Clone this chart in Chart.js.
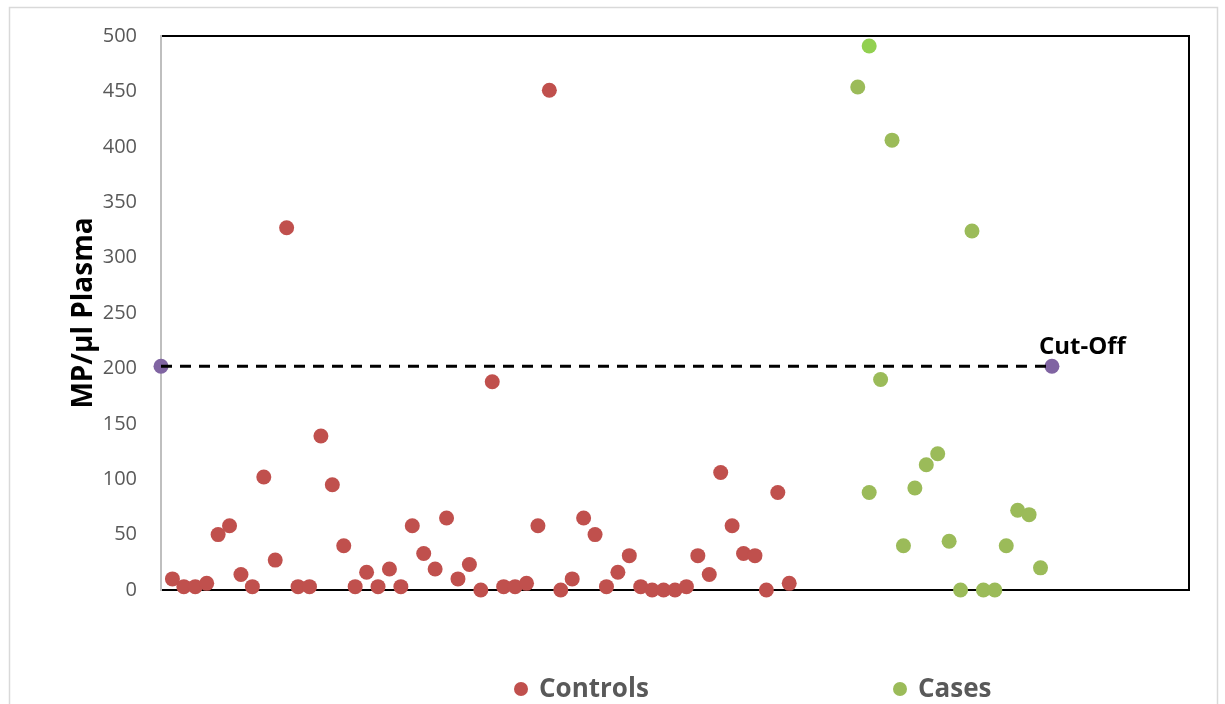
<!DOCTYPE html>
<html>
<head>
<meta charset="utf-8">
<script src="https://cdn.jsdelivr.net/npm/chart.js@4.4.1/dist/chart.umd.min.js"></script>
<style>
html,body{margin:0;padding:0;background:#ffffff;}
canvas{display:block;}
</style>
</head>
<body>
<canvas id="c" width="1225" height="704"></canvas>
<script>
// ---- data ----
const seriesLabels = ['Controls', 'Cases', 'Cut-Off'];
const controlsX = [1,2,3,4,5,6,7,8,9,10,11,12,13,14,15,16,17,18,19,20,21,22,23,24,25,26,27,28,29,30,31,32,33,34,35,36,37,38,39,40,41,42,43,44,45,46,47,48,49,50,51,52,53,54,55];
const controlsY = [10,3,3,6,50,58,14,3,102,27,327,3,3,139,95,40,3,16,3,19,3,58,33,19,65,10,23,0,188,3,3,6,58,451,0,10,65,50,3,16,31,3,0,0,0,3,31,14,106,58,33,31,0,88,6];
const casesX = [61,62,62,63,64,65,66,67,68,69,70,71,72,73,74,75,76,77];
const casesY = [454,88,491,190,406,40,92,113,123,44,0,324,0,0,40,72,68,20];
const casesHighlightIndex = 2;
const cutoffX = [0, 78];
const cutoffY = [202, 202];
const yTicks = [0,50,100,150,200,250,300,350,400,450,500];
const yTitle = 'MP/µl Plasma';
const cutoffText = 'Cut-Off';

const toPts = (xs, ys) => xs.map((x, i) => ({x: x, y: ys[i]}));

// ---- styles ----
const COL_CONTROLS = '#C0504D';
const COL_CASES = '#9BBB59';
const COL_CASES_HI = '#92D050';
const COL_CUTOFF = '#8064A2';
const FONT = '"Open Sans", "DejaVu Sans", sans-serif';

const frameAndLabels = {
  id: 'frameAndLabels',
  beforeDraw(chart) {
    const ctx = chart.ctx;
    ctx.save();
    ctx.fillStyle = '#ffffff';
    ctx.fillRect(0, 0, chart.width, chart.height);
    ctx.strokeStyle = '#D9D9D9';
    ctx.lineWidth = 1.5;
    ctx.strokeRect(9.5, 7.5, 1208, 720);
    ctx.restore();
  },
  afterDraw(chart) {
    const ctx = chart.ctx;
    const xs = chart.scales.x, ys = chart.scales.y;
    ctx.save();
    // Cut-Off label
    const px = xs.getPixelForValue(cutoffX[1]);
    const py = ys.getPixelForValue(cutoffY[1]);
    ctx.font = 'bold 24px ' + FONT;
    ctx.fillStyle = '#000000';
    ctx.textAlign = 'left';
    ctx.textBaseline = 'middle';
    ctx.fillText(cutoffText, px - 13, py - 19);
    // Legend (Controls, Cases)
    const legendX = [521, 900];
    const legendColors = [COL_CONTROLS, COL_CASES];
    const ly = 689;
    ctx.font = 'bold 26px ' + FONT;
    [0, 1].forEach((di, i) => {
      ctx.fillStyle = legendColors[i];
      ctx.beginPath();
      ctx.arc(legendX[i], ly, 7, 0, Math.PI * 2);
      ctx.fill();
      ctx.fillStyle = '#595959';
      ctx.fillText(chart.data.datasets[di].label, legendX[i] + 18, ly + 1);
    });
    ctx.restore();
  }
};

new Chart(document.getElementById('c'), {
  type: 'scatter',
  data: {
    datasets: [
      {
        label: seriesLabels[0],
        data: toPts(controlsX, controlsY),
        backgroundColor: COL_CONTROLS,
        borderWidth: 0,
        pointRadius: 7.5,
        clip: false,
        order: 3
      },
      {
        label: seriesLabels[1],
        data: toPts(casesX, casesY),
        backgroundColor: (c) => c.dataIndex === casesHighlightIndex ? COL_CASES_HI : COL_CASES,
        borderWidth: 0,
        pointRadius: 7.5,
        clip: false,
        order: 3
      },
      {
        label: seriesLabels[2],
        data: toPts(cutoffX, cutoffY),
        backgroundColor: COL_CUTOFF,
        borderWidth: 0,
        pointRadius: 7.5,
        clip: false,
        order: 2
      },
      {
        label: seriesLabels[2] + ' line',
        data: toPts(cutoffX, cutoffY),
        showLine: true,
        borderColor: '#000000',
        borderWidth: 3,
        borderDash: [11, 8],
        pointRadius: 0,
        clip: false,
        order: 1
      }
    ]
  },
  options: {
    responsive: false,
    animation: false,
    devicePixelRatio: 1,
    layout: {padding: {left: 0, right: 0, top: 0, bottom: 0}},
    plugins: {
      legend: {display: false},
      tooltip: {enabled: false}
    },
    scales: {
      x: {
        type: 'linear', position: 'bottom', min: 0, max: 90,
        grid: {display: false, drawTicks: false},
        ticks: {display: false},
        border: {display: true, color: '#000000', width: 2},
        afterFit: (s) => { s.height = 114; }
      },
      x2: {
        type: 'linear', position: 'top', min: 0, max: 90,
        grid: {display: false, drawTicks: false},
        ticks: {display: false},
        border: {display: true, color: '#000000', width: 2},
        afterFit: (s) => { s.height = 34; }
      },
      y: {
        type: 'linear', position: 'left', min: 0, max: 500,
        afterBuildTicks: (s) => { s.ticks = yTicks.map(v => ({value: v})); },
        grid: {display: false, drawTicks: false},
        border: {display: true, color: '#BFBFBF', width: 2},
        ticks: {
          padding: 24,
          color: '#595959',
          font: {family: FONT, size: 20}
        },
        title: {
          display: true,
          text: yTitle,
          color: '#000000',
          font: {family: FONT, size: 28, weight: 'bold'},
          padding: {top: 67, bottom: 0}
        },
        afterFit: (s) => { s.width = 161; }
      },
      y2: {
        type: 'linear', position: 'right', min: 0, max: 500,
        grid: {display: false, drawTicks: false},
        ticks: {display: false},
        border: {display: true, color: '#000000', width: 2},
        afterFit: (s) => { s.width = 36; }
      }
    }
  },
  plugins: [frameAndLabels]
});
</script>
</body>
</html>
